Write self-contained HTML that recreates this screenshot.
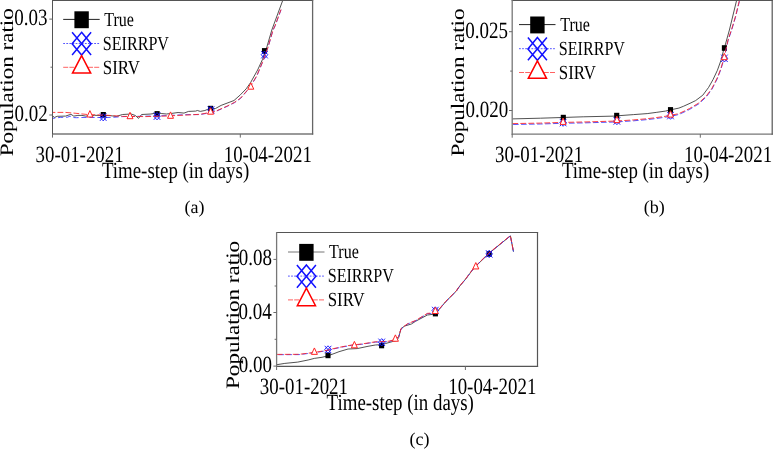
<!DOCTYPE html>
<html><head><meta charset="utf-8"><style>
html,body{margin:0;padding:0;background:#fff;width:773px;height:449px;overflow:hidden}
svg{display:block;will-change:transform}
text{font-family:"Liberation Serif", serif;text-rendering:geometricPrecision}
</style></head><body>
<svg width="773" height="449" viewBox="0 0 773 449">
<rect width="773" height="449" fill="#fff"/>
<polyline points="52.6,116.1 54.6,117.4 57.2,116.3 65.5,116.1 70.9,114.3 73.8,116.1 77.9,115.4 82.0,115.4 85.7,116.1 94.5,115.3 101.8,115.5 109.0,115.5 116.3,116.4 122.5,114.5 131.2,114.0 135.4,115.5 138.5,118.4 141.6,114.5 150.9,114.0 157.1,112.9 161.2,113.5 166.4,114.0 171.7,113.4 178.1,112.5 184.0,113.1 188.6,111.4 195.6,111.1 197.4,110.5 200.3,111.4 204.9,110.5 207.8,109.3 211.0,108.6 215.5,108.5 221.1,105.4 234.0,100.5 240.4,94.8 246.2,88.8 250.5,82.7 257.6,70.0 262.5,59.4 266.9,46.9 271.8,30.0 282.7,0.5" fill="none" stroke="#333" stroke-width="0.85" stroke-linejoin="round"/>
<rect x="100.75" y="112.00" width="5.1" height="5.6" fill="#000"/>
<rect x="154.55" y="111.10" width="5.1" height="5.6" fill="#000"/>
<rect x="208.05" y="105.80" width="5.1" height="5.6" fill="#000"/>
<rect x="261.95" y="48.10" width="5.1" height="5.6" fill="#000"/>
<polyline points="52.6,118.4 54.1,118.2 60.3,117.4 67.5,117.2 70.1,116.1 72.5,117.5 76.3,117.7 84.0,117.4 89.0,117.5 112.0,117.4 122.5,116.6 145.7,116.2 166.4,115.6 187.1,114.6 200.0,114.6 215.0,111.8 227.3,106.3 234.6,102.6 240.7,98.3 247.5,90.3 250.5,86.6 256.7,76.2 259.2,70.3 263.6,59.7 268.1,47.2 273.0,30.3 275.2,25.7 281.0,9.8" fill="none" stroke="#33f" stroke-width="0.85" stroke-dasharray="5.2,2.8" stroke-dashoffset="2.5" stroke-linejoin="round"/>
<path d="M99.90,113.50L106.50,120.90M106.50,113.50L99.90,120.90M103.20,113.50L106.50,117.20L103.20,120.90L99.90,117.20Z" fill="none" stroke="#11f" stroke-width="0.9"/>
<path d="M153.70,112.50L160.30,119.90M160.30,112.50L153.70,119.90M157.00,112.50L160.30,116.20L157.00,119.90L153.70,116.20Z" fill="none" stroke="#11f" stroke-width="0.9"/>
<path d="M207.70,106.30L214.30,113.70M214.30,106.30L207.70,113.70M211.00,106.30L214.30,110.00L211.00,113.70L207.70,110.00Z" fill="none" stroke="#11f" stroke-width="0.9"/>
<path d="M261.20,51.00L267.80,58.40M267.80,51.00L261.20,58.40M264.50,51.00L267.80,54.70L264.50,58.40L261.20,54.70Z" fill="none" stroke="#11f" stroke-width="0.9"/>
<polyline points="52.6,112.4 65.5,112.4 75.9,113.3 87.3,114.5 108.0,115.3 122.5,116.4 145.7,116.6 166.4,116.0 187.1,115.0 200.0,114.3 215.0,111.5 227.3,106.0 234.6,102.3 240.7,98.0 247.5,90.0 250.5,86.3 256.7,75.9 259.2,70.0 263.6,59.4 268.1,46.9 273.0,30.0 275.2,25.4 281.0,9.5" fill="none" stroke="#f22" stroke-width="0.85" stroke-dasharray="5.8,2.2" stroke-dashoffset="3.1" stroke-linejoin="round"/>
<polygon points="89.90,110.60 86.90,117.00 92.90,117.00" fill="#fff" stroke="#f22" stroke-width="1.0"/>
<polygon points="130.00,112.30 127.00,118.70 133.00,118.70" fill="#fff" stroke="#f22" stroke-width="1.0"/>
<polygon points="170.50,111.90 167.50,118.30 173.50,118.30" fill="#fff" stroke="#f22" stroke-width="1.0"/>
<polygon points="210.60,107.80 207.60,114.20 213.60,114.20" fill="#fff" stroke="#f22" stroke-width="1.0"/>
<polygon points="250.80,82.80 247.80,89.20 253.80,89.20" fill="#fff" stroke="#f22" stroke-width="1.0"/>
<line x1="52.00" y1="0.5" x2="313.20" y2="0.5" stroke="#555" stroke-width="1.0"/>
<line x1="52.00" y1="134.0" x2="313.20" y2="134.0" stroke="#777" stroke-width="1.3"/>
<line x1="52.5" y1="0.00" x2="52.5" y2="134.60" stroke="#555" stroke-width="1.0"/>
<line x1="312.6" y1="0.00" x2="312.6" y2="134.60" stroke="#666" stroke-width="1.3"/>
<line x1="49.30" y1="19.1" x2="52.5" y2="19.1" stroke="#6a6a6a" stroke-width="1"/>
<line x1="49.30" y1="115.0" x2="52.5" y2="115.0" stroke="#6a6a6a" stroke-width="1"/>
<line x1="50.50" y1="67.2" x2="52.5" y2="67.2" stroke="#6a6a6a" stroke-width="1"/>
<line x1="52.5" y1="134.0" x2="52.5" y2="137.60" stroke="#6a6a6a" stroke-width="1"/>
<line x1="240.3" y1="134.0" x2="240.3" y2="137.60" stroke="#6a6a6a" stroke-width="1"/>
<line x1="63.20" y1="19.40" x2="99.70" y2="19.40" stroke="#222" stroke-width="1"/>
<rect x="74.40" y="11.30" width="14.4" height="16.9" fill="#000"/>
<line x1="63.20" y1="43.50" x2="99.70" y2="43.50" stroke="#44f" stroke-width="0.9" stroke-dasharray="1.8,1.3"/>
<path d="M72.10,32.30L91.10,55.10M91.10,32.30L72.10,55.10M81.60,32.30L91.10,43.70L81.60,55.10L72.10,43.70Z" fill="none" stroke="#11f" stroke-width="1.5"/>
<line x1="63.20" y1="67.30" x2="99.70" y2="67.30" stroke="#f44" stroke-width="0.85" stroke-dasharray="5,1.2"/>
<polygon points="81.60,55.60 72.50,73.10 90.70,73.10" fill="#fff" stroke="#f00" stroke-width="1.5"/>
<text transform="translate(104.20,25.70) scale(0.985,1.23)" font-size="16.3" text-anchor="start" fill="#000">True</text>
<text transform="translate(102.80,50.00) scale(0.988,1.23)" font-size="16.3" text-anchor="start" fill="#000">SEIRRPV</text>
<text transform="translate(102.80,74.00) scale(1.035,1.23)" font-size="16.3" text-anchor="start" fill="#000">SIRV</text>
<text transform="translate(14.14,25.30) scale(1,1.23)" font-size="19.0" text-anchor="start" fill="#000">0.03</text>
<text transform="translate(14.44,121.20) scale(1,1.23)" font-size="19.0" text-anchor="start" fill="#000">0.02</text>
<text transform="translate(35.55,161.80) scale(1,1.23)" font-size="18.9" text-anchor="start" fill="#000">30-01-2021</text>
<text transform="translate(223.70,161.80) scale(1,1.23)" font-size="18.9" text-anchor="start" fill="#000">10-04-2021</text>
<text transform="translate(101.92,177.90) scale(1,1.228)" font-size="18.9" text-anchor="start" fill="#000">Time-step (in days)</text>
<text transform="translate(13.30,156.30) scale(1,1.215) rotate(-90)" font-size="19.0" text-anchor="start" fill="#000">Population ratio</text>
<text transform="translate(194.50,213.00) scale(1,1.0)" font-size="18.0" text-anchor="middle" fill="#000">(a)</text>
<polyline points="512.3,118.9 540.5,118.2 561.8,117.5 583.2,116.8 614.5,116.1 620.0,115.6 633.6,114.6 647.2,113.6 656.2,112.4 665.3,111.1 670.3,109.9 678.9,108.1 683.4,106.3 690.0,103.3 695.6,100.6 702.8,95.2 708.6,87.4 713.0,79.6 717.4,70.3 721.3,59.4 723.6,50.0 724.4,48.0 729.4,30.0 736.6,0.4" fill="none" stroke="#333" stroke-width="0.85" stroke-linejoin="round"/>
<rect x="560.75" y="114.80" width="5.1" height="5.6" fill="#000"/>
<rect x="614.15" y="112.80" width="5.1" height="5.6" fill="#000"/>
<rect x="667.95" y="107.10" width="5.1" height="5.6" fill="#000"/>
<rect x="721.85" y="45.20" width="5.1" height="5.6" fill="#000"/>
<polyline points="512.3,124.5 540.5,124.0 562.5,123.3 583.2,122.9 614.5,122.0 620.0,121.7 633.6,120.8 647.2,119.6 656.2,118.5 665.3,117.2 670.3,116.3 678.9,114.5 689.4,109.5 698.7,103.9 706.3,96.9 712.0,89.1 717.2,78.9 720.8,69.6 722.9,62.6 724.4,57.1 728.0,40.9 732.0,28.9 735.4,17.6 739.4,1.3" fill="none" stroke="#33f" stroke-width="0.85" stroke-dasharray="5.6,2.4" stroke-dashoffset="-0.8" stroke-linejoin="round"/>
<path d="M559.80,118.90L566.40,126.30M566.40,118.90L559.80,126.30M563.10,118.90L566.40,122.60L563.10,126.30L559.80,122.60Z" fill="none" stroke="#11f" stroke-width="0.9"/>
<path d="M613.60,117.30L620.20,124.70M620.20,117.30L613.60,124.70M616.90,117.30L620.20,121.00L616.90,124.70L613.60,121.00Z" fill="none" stroke="#11f" stroke-width="0.9"/>
<path d="M667.20,111.90L673.80,119.30M673.80,111.90L667.20,119.30M670.50,111.90L673.80,115.60L670.50,119.30L667.20,115.60Z" fill="none" stroke="#11f" stroke-width="0.9"/>
<path d="M721.10,54.60L727.70,62.00M727.70,54.60L721.10,62.00M724.40,54.60L727.70,58.30L724.40,62.00L721.10,58.30Z" fill="none" stroke="#11f" stroke-width="0.9"/>
<polyline points="512.3,123.6 540.5,123.1 562.5,122.4 583.2,122.0 614.5,121.1 620.0,120.8 633.6,119.9 647.2,118.7 656.2,117.6 665.3,116.3 670.3,115.4 678.9,113.6 689.4,108.6 698.7,103.0 706.3,96.0 712.0,88.2 717.2,78.0 720.8,68.7 722.9,61.7 724.4,56.2 728.0,40.0 732.0,28.0 735.4,16.7 739.4,0.4" fill="none" stroke="#f22" stroke-width="0.85" stroke-dasharray="5.8,2.2" stroke-dashoffset="0" stroke-linejoin="round"/>
<polygon points="563.10,118.00 560.10,124.40 566.10,124.40" fill="#fff" stroke="#f22" stroke-width="1.0"/>
<polygon points="616.90,116.20 613.90,122.60 619.90,122.60" fill="#fff" stroke="#f22" stroke-width="1.0"/>
<polygon points="670.50,110.70 667.50,117.10 673.50,117.10" fill="#fff" stroke="#f22" stroke-width="1.0"/>
<polygon points="724.30,53.30 721.30,59.70 727.30,59.70" fill="#fff" stroke="#f22" stroke-width="1.0"/>
<line x1="511.70" y1="0.5" x2="772.80" y2="0.5" stroke="#555" stroke-width="1.0"/>
<line x1="511.70" y1="134.1" x2="772.80" y2="134.1" stroke="#777" stroke-width="1.3"/>
<line x1="512.2" y1="0.00" x2="512.2" y2="134.70" stroke="#777" stroke-width="1.3"/>
<line x1="772.2" y1="0.00" x2="772.2" y2="134.70" stroke="#555" stroke-width="1.2"/>
<line x1="509.00" y1="31.7" x2="512.2" y2="31.7" stroke="#6a6a6a" stroke-width="1"/>
<line x1="509.00" y1="110.5" x2="512.2" y2="110.5" stroke="#6a6a6a" stroke-width="1"/>
<line x1="510.20" y1="71.1" x2="512.2" y2="71.1" stroke="#6a6a6a" stroke-width="1"/>
<line x1="512.2" y1="134.1" x2="512.2" y2="137.70" stroke="#6a6a6a" stroke-width="1"/>
<line x1="700.3" y1="134.1" x2="700.3" y2="137.70" stroke="#6a6a6a" stroke-width="1"/>
<line x1="519.00" y1="24.60" x2="555.50" y2="24.60" stroke="#222" stroke-width="1"/>
<rect x="530.20" y="16.50" width="14.4" height="16.9" fill="#000"/>
<line x1="519.00" y1="48.70" x2="555.50" y2="48.70" stroke="#44f" stroke-width="0.9" stroke-dasharray="1.8,1.3"/>
<path d="M527.90,37.50L546.90,60.30M546.90,37.50L527.90,60.30M537.40,37.50L546.90,48.90L537.40,60.30L527.90,48.90Z" fill="none" stroke="#11f" stroke-width="1.5"/>
<line x1="519.00" y1="72.50" x2="555.50" y2="72.50" stroke="#f44" stroke-width="0.85" stroke-dasharray="5,1.2"/>
<polygon points="537.40,60.80 528.30,78.30 546.50,78.30" fill="#fff" stroke="#f00" stroke-width="1.5"/>
<text transform="translate(560.20,31.00) scale(0.985,1.23)" font-size="16.3" text-anchor="start" fill="#000">True</text>
<text transform="translate(558.80,54.90) scale(0.988,1.23)" font-size="16.3" text-anchor="start" fill="#000">SEIRRPV</text>
<text transform="translate(558.80,78.60) scale(1.035,1.23)" font-size="16.3" text-anchor="start" fill="#000">SIRV</text>
<text transform="translate(465.34,37.90) scale(1,1.23)" font-size="19.0" text-anchor="start" fill="#000">0.025</text>
<text transform="translate(465.44,116.70) scale(1,1.23)" font-size="19.0" text-anchor="start" fill="#000">0.020</text>
<text transform="translate(495.06,161.80) scale(1,1.23)" font-size="18.9" text-anchor="start" fill="#000">30-01-2021</text>
<text transform="translate(684.00,161.80) scale(1,1.23)" font-size="18.9" text-anchor="start" fill="#000">10-04-2021</text>
<text transform="translate(561.92,177.90) scale(1,1.228)" font-size="18.9" text-anchor="start" fill="#000">Time-step (in days)</text>
<text transform="translate(463.80,156.60) scale(1,1.215) rotate(-90)" font-size="19.0" text-anchor="start" fill="#000">Population ratio</text>
<text transform="translate(654.20,213.00) scale(1,1.0)" font-size="18.0" text-anchor="middle" fill="#000">(b)</text>
<polyline points="276.8,364.7 284.8,363.4 297.7,362.1 308.1,360.0 314.3,358.4 322.0,357.3 328.0,355.8 334.0,353.6 339.0,351.7 348.1,349.0 357.2,348.6 368.0,346.3 375.3,345.0 381.5,344.6 385.3,343.6 393.4,341.3 396.7,340.6 398.7,337.4 401.0,328.7 404.7,326.0 411.4,324.0 415.4,321.4 427.4,315.0 435.4,314.0 437.7,311.1 445.7,301.7 456.4,291.0 459.0,287.0 465.7,279.0 473.7,268.4 476.0,266.0 488.9,253.4 510.4,235.9 513.5,251.7" fill="none" stroke="#333" stroke-width="0.85" stroke-linejoin="round"/>
<rect x="325.45" y="352.60" width="5.1" height="5.6" fill="#000"/>
<rect x="379.05" y="342.70" width="5.1" height="5.6" fill="#000"/>
<rect x="432.85" y="310.80" width="5.1" height="5.6" fill="#000"/>
<rect x="486.65" y="251.10" width="5.1" height="5.6" fill="#000"/>
<polyline points="276.8,354.7 299.1,354.6 314.6,352.7 328.2,350.4 331.8,349.3 341.8,347.1 351.7,345.3 361.7,344.3 375.3,342.1 381.3,341.9 389.0,341.5 395.4,339.7 398.7,336.8 401.0,329.0 407.4,324.1 415.4,320.9 427.4,313.7 435.4,313.0 437.7,311.1 445.7,301.7 456.4,291.0 459.0,287.0 465.7,279.0 473.7,268.4 476.0,266.0 488.9,253.3 510.4,235.9 513.5,252.0" fill="none" stroke="#33f" stroke-width="0.85" stroke-dasharray="5.6,2.4" stroke-dashoffset="-1.5" stroke-linejoin="round"/>
<path d="M324.70,345.80L331.30,353.20M331.30,345.80L324.70,353.20M328.00,345.80L331.30,349.50L328.00,353.20L324.70,349.50Z" fill="none" stroke="#11f" stroke-width="0.9"/>
<path d="M378.40,338.60L385.00,346.00M385.00,338.60L378.40,346.00M381.70,338.60L385.00,342.30L381.70,346.00L378.40,342.30Z" fill="none" stroke="#11f" stroke-width="0.9"/>
<path d="M432.00,306.80L438.60,314.20M438.60,306.80L432.00,314.20M435.30,306.80L438.60,310.50L435.30,314.20L432.00,310.50Z" fill="none" stroke="#11f" stroke-width="0.9"/>
<path d="M485.90,250.20L492.50,257.60M492.50,250.20L485.90,257.60M489.20,250.20L492.50,253.90L489.20,257.60L485.90,253.90Z" fill="none" stroke="#11f" stroke-width="0.9"/>
<polyline points="276.8,354.4 299.1,354.3 314.6,352.4 328.2,350.1 331.8,349.0 341.8,346.8 351.7,345.0 361.7,344.0 375.3,341.8 381.3,341.6 389.0,341.2 395.4,339.4 398.7,336.5 401.0,328.7 407.4,323.8 415.4,320.6 427.4,313.4 435.4,312.7 437.7,310.8 445.7,301.4 456.4,290.7 459.0,286.7 465.7,278.7 473.7,268.1 476.0,265.7 488.9,253.0 510.4,235.6 513.5,251.7" fill="none" stroke="#f22" stroke-width="0.85" stroke-dasharray="5.8,2.2" stroke-dashoffset="0" stroke-linejoin="round"/>
<polygon points="314.40,347.95 311.40,354.35 317.40,354.35" fill="#fff" stroke="#f22" stroke-width="1.0"/>
<polygon points="354.40,341.40 351.40,347.80 357.40,347.80" fill="#fff" stroke="#f22" stroke-width="1.0"/>
<polygon points="395.40,334.85 392.40,341.25 398.40,341.25" fill="#fff" stroke="#f22" stroke-width="1.0"/>
<polygon points="435.30,307.10 432.30,313.50 438.30,313.50" fill="#fff" stroke="#f22" stroke-width="1.0"/>
<polygon points="475.80,262.55 472.80,268.95 478.80,268.95" fill="#fff" stroke="#f22" stroke-width="1.0"/>
<line x1="276.10" y1="232.5" x2="538.10" y2="232.5" stroke="#555" stroke-width="1.0"/>
<line x1="276.10" y1="366.4" x2="538.10" y2="366.4" stroke="#555" stroke-width="1.2"/>
<line x1="276.6" y1="232.00" x2="276.6" y2="367.00" stroke="#777" stroke-width="1.3"/>
<line x1="537.5" y1="232.00" x2="537.5" y2="367.00" stroke="#555" stroke-width="1.2"/>
<line x1="273.40" y1="259.4" x2="276.6" y2="259.4" stroke="#6a6a6a" stroke-width="1"/>
<line x1="273.40" y1="312.5" x2="276.6" y2="312.5" stroke="#6a6a6a" stroke-width="1"/>
<line x1="273.40" y1="366.1" x2="276.6" y2="366.1" stroke="#6a6a6a" stroke-width="1"/>
<line x1="274.60" y1="286.0" x2="276.6" y2="286.0" stroke="#6a6a6a" stroke-width="1"/>
<line x1="274.60" y1="339.3" x2="276.6" y2="339.3" stroke="#6a6a6a" stroke-width="1"/>
<line x1="276.6" y1="366.4" x2="276.6" y2="370.00" stroke="#6a6a6a" stroke-width="1"/>
<line x1="465.4" y1="366.4" x2="465.4" y2="370.00" stroke="#6a6a6a" stroke-width="1"/>
<line x1="288.00" y1="252.00" x2="324.50" y2="252.00" stroke="#777" stroke-width="1"/>
<rect x="299.20" y="243.90" width="14.4" height="16.9" fill="#000"/>
<line x1="288.00" y1="276.10" x2="324.50" y2="276.10" stroke="#44f" stroke-width="0.9" stroke-dasharray="1.8,1.3"/>
<path d="M296.90,264.90L315.90,287.70M315.90,264.90L296.90,287.70M306.40,264.90L315.90,276.30L306.40,287.70L296.90,276.30Z" fill="none" stroke="#11f" stroke-width="1.5"/>
<line x1="288.00" y1="299.90" x2="324.50" y2="299.90" stroke="#f44" stroke-width="0.85" stroke-dasharray="5,1.2"/>
<polygon points="306.40,288.20 297.30,305.70 315.50,305.70" fill="#fff" stroke="#f00" stroke-width="1.5"/>
<text transform="translate(329.10,258.20) scale(0.985,1.23)" font-size="16.3" text-anchor="start" fill="#000">True</text>
<text transform="translate(327.70,282.40) scale(0.988,1.23)" font-size="16.3" text-anchor="start" fill="#000">SEIRRPV</text>
<text transform="translate(327.70,306.30) scale(1.035,1.23)" font-size="16.3" text-anchor="start" fill="#000">SIRV</text>
<text transform="translate(238.74,265.40) scale(1,1.23)" font-size="19.0" text-anchor="start" fill="#000">0.08</text>
<text transform="translate(238.54,318.70) scale(1,1.23)" font-size="19.0" text-anchor="start" fill="#000">0.04</text>
<text transform="translate(238.74,372.30) scale(1,1.23)" font-size="19.0" text-anchor="start" fill="#000">0.00</text>
<text transform="translate(259.86,394.00) scale(1,1.23)" font-size="18.9" text-anchor="start" fill="#000">30-01-2021</text>
<text transform="translate(448.20,394.00) scale(1,1.23)" font-size="18.9" text-anchor="start" fill="#000">10-04-2021</text>
<text transform="translate(326.62,409.90) scale(1,1.228)" font-size="18.9" text-anchor="start" fill="#000">Time-step (in days)</text>
<text transform="translate(238.70,389.00) scale(1,1.215) rotate(-90)" font-size="19.0" text-anchor="start" fill="#000">Population ratio</text>
<text transform="translate(419.40,445.40) scale(1,1.0)" font-size="18.0" text-anchor="middle" fill="#000">(c)</text>
</svg>
</body></html>
